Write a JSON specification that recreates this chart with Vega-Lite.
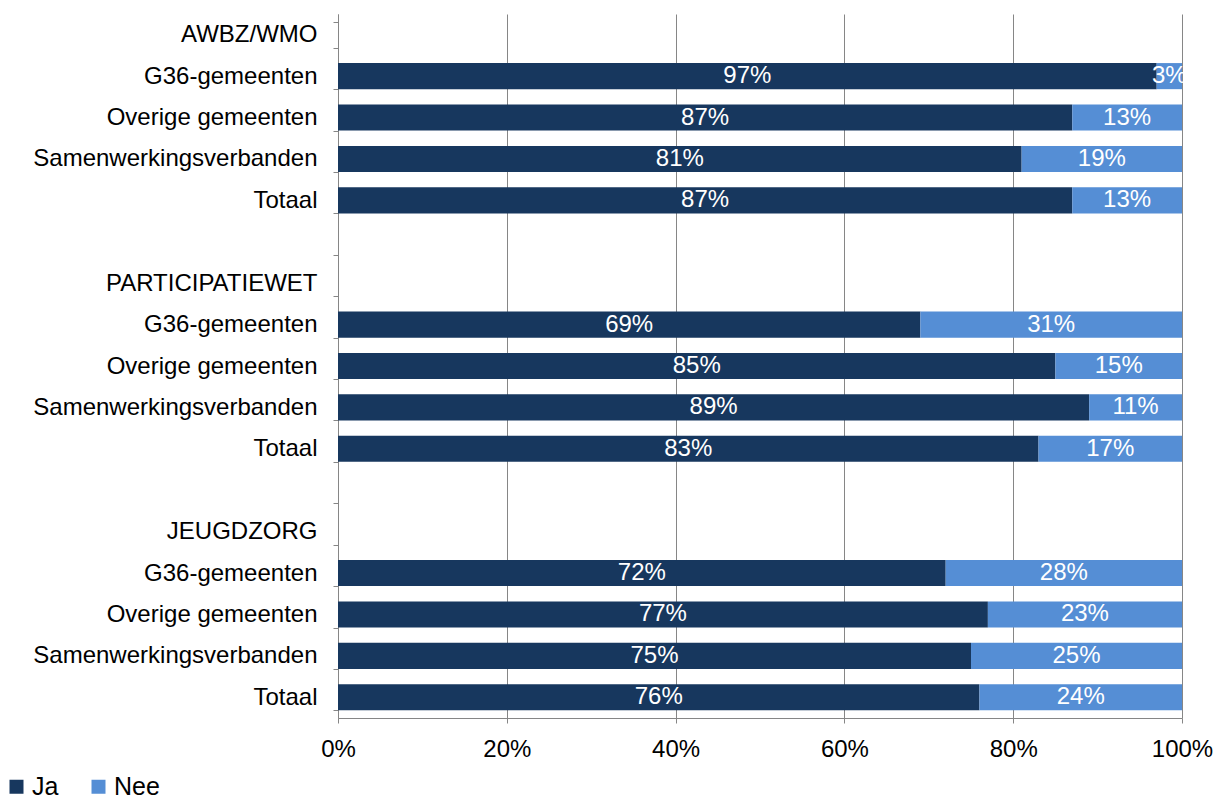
{
  "$schema": "https://vega.github.io/schema/vega-lite/v6.json",
  "width": 844,
  "height": 704,
  "autosize": {"type": "none"},
  "padding": {"left": 338, "top": 14, "right": 32, "bottom": 85},
  "config": {
    "font": "Liberation Sans",
    "view": {"stroke": null},
    "axis": {"labelFont": "Liberation Sans", "labelFontSize": 24, "labelColor": "#000000"}
  },
  "data": {
    "values": [
      {"row": "02|G36-gemeenten", "antwoord": "Ja", "pct": 0.97},
      {"row": "02|G36-gemeenten", "antwoord": "Nee", "pct": 0.03},
      {"row": "03|Overige gemeenten", "antwoord": "Ja", "pct": 0.87},
      {"row": "03|Overige gemeenten", "antwoord": "Nee", "pct": 0.13},
      {"row": "04|Samenwerkingsverbanden", "antwoord": "Ja", "pct": 0.81},
      {"row": "04|Samenwerkingsverbanden", "antwoord": "Nee", "pct": 0.19},
      {"row": "05|Totaal", "antwoord": "Ja", "pct": 0.87},
      {"row": "05|Totaal", "antwoord": "Nee", "pct": 0.13},
      {"row": "08|G36-gemeenten", "antwoord": "Ja", "pct": 0.69},
      {"row": "08|G36-gemeenten", "antwoord": "Nee", "pct": 0.31},
      {"row": "09|Overige gemeenten", "antwoord": "Ja", "pct": 0.85},
      {"row": "09|Overige gemeenten", "antwoord": "Nee", "pct": 0.15},
      {"row": "10|Samenwerkingsverbanden", "antwoord": "Ja", "pct": 0.89},
      {"row": "10|Samenwerkingsverbanden", "antwoord": "Nee", "pct": 0.11},
      {"row": "11|Totaal", "antwoord": "Ja", "pct": 0.83},
      {"row": "11|Totaal", "antwoord": "Nee", "pct": 0.17},
      {"row": "14|G36-gemeenten", "antwoord": "Ja", "pct": 0.72},
      {"row": "14|G36-gemeenten", "antwoord": "Nee", "pct": 0.28},
      {"row": "15|Overige gemeenten", "antwoord": "Ja", "pct": 0.77},
      {"row": "15|Overige gemeenten", "antwoord": "Nee", "pct": 0.23},
      {"row": "16|Samenwerkingsverbanden", "antwoord": "Ja", "pct": 0.75},
      {"row": "16|Samenwerkingsverbanden", "antwoord": "Nee", "pct": 0.25},
      {"row": "17|Totaal", "antwoord": "Ja", "pct": 0.76},
      {"row": "17|Totaal", "antwoord": "Nee", "pct": 0.24}
    ]
  },
  "encoding": {
    "y": {
      "field": "row",
      "type": "nominal",
      "scale": {
        "domain": ["01|AWBZ/WMO", "02|G36-gemeenten", "03|Overige gemeenten", "04|Samenwerkingsverbanden", "05|Totaal", "06|",
                   "07|PARTICIPATIEWET", "08|G36-gemeenten", "09|Overige gemeenten", "10|Samenwerkingsverbanden", "11|Totaal", "12|",
                   "13|JEUGDZORG", "14|G36-gemeenten", "15|Overige gemeenten", "16|Samenwerkingsverbanden", "17|Totaal"],
        "paddingInner": 0.37,
        "paddingOuter": 0.185
      },
      "axis": {
        "title": null,
        "labelExpr": "split(datum.value, '|')[1]",
        "labelLimit": 0,
        "tickBand": "extent",
        "ticks": true,
        "tickSize": 5,
        "tickColor": "#868686",
        "domainColor": "#868686",
        "labelPadding": 16,
        "grid": false
      }
    }
  },
  "layer": [
    {
      "mark": {"type": "bar"},
      "encoding": {
        "x": {
          "field": "pct",
          "type": "quantitative",
          "stack": "zero",
          "scale": {"domain": [0, 1]},
          "axis": {
            "title": null,
            "format": ".0%",
            "values": [0, 0.2, 0.4, 0.6, 0.8, 1],
            "labelOverlap": false,
            "labelFlush": false,
            "grid": true,
            "gridColor": "#868686",
            "gridWidth": 1,
            "domainColor": "#868686",
            "tickColor": "#868686",
            "tickSize": 5,
            "labelPadding": 14
          }
        },
        "color": {
          "field": "antwoord",
          "type": "nominal",
          "scale": {"domain": ["Ja", "Nee"], "range": ["#17375E", "#558ED5"]},
          "legend": {
            "title": null,
            "orient": "none",
            "direction": "horizontal",
            "legendX": -334,
            "legendY": 760,
            "symbolType": "square",
            "symbolSize": 196,
            "symbolStrokeWidth": 0,
            "labelFontSize": 25,
            "labelFont": "Liberation Sans",
            "labelColor": "#000000",
            "labelOffset": 3,
            "labelLimit": 0,
            "columnPadding": 27
          }
        },
        "order": {"field": "antwoord", "sort": "ascending"}
      }
    },
    {
      "mark": {"type": "text", "color": "white", "fontSize": 24, "font": "Liberation Sans", "align": "center", "baseline": "middle"},
      "encoding": {
        "x": {"field": "pct", "type": "quantitative", "stack": "zero", "bandPosition": 0.5},
        "text": {"field": "pct", "type": "quantitative", "format": ".0%"},
        "detail": {"field": "antwoord"},
        "order": {"field": "antwoord", "sort": "ascending"}
      }
    }
  ]
}
